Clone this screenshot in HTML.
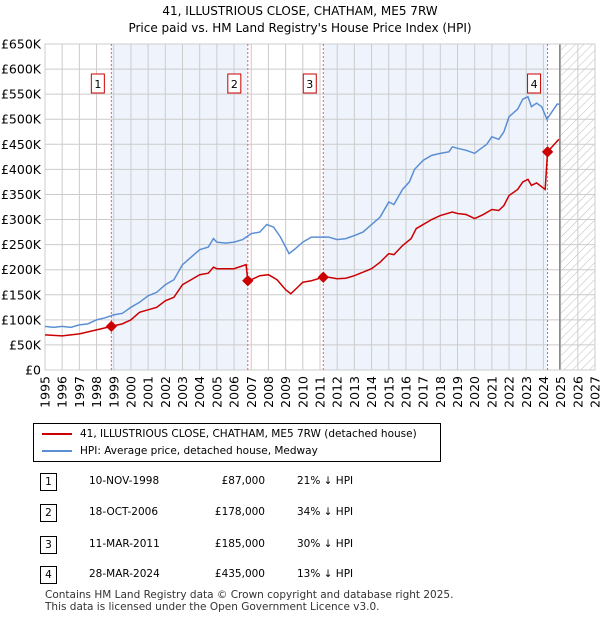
<!DOCTYPE html>
<html><head><meta charset="utf-8"><style>
body{margin:0;width:600px;height:620px;background:#fff;font-family:"DejaVu Sans","Liberation Sans",sans-serif;position:relative;overflow:hidden}
.t{position:absolute;font-size:12px;color:#000}
svg text{font-family:"DejaVu Sans","Liberation Sans",sans-serif}
</style></head><body>
<div class="t" style="left:0;width:600px;text-align:center;top:3px;font-size:12px;line-height:17px">41, ILLUSTRIOUS CLOSE, CHATHAM, ME5 7RW<br>Price paid vs. HM Land Registry's House Price Index (HPI)</div>
<svg id="c" width="600" height="410" style="position:absolute;left:0;top:0">
<defs><pattern id="h" width="6" height="6" patternUnits="userSpaceOnUse" patternTransform="rotate(45)"><line x1="0" y1="0" x2="0" y2="6" stroke="#bbb" stroke-width="1"/></pattern></defs>
</svg>
<div style="position:absolute;left:33px;top:423px;width:406px;height:37px;border:1px solid #000">
<div style="position:absolute;left:8px;top:4px;font-size:10.5px"><span style="display:inline-block;width:30px;height:2px;background:#cc0000;vertical-align:middle;margin-right:8px"></span>41, ILLUSTRIOUS CLOSE, CHATHAM, ME5 7RW (detached house)</div>
<div style="position:absolute;left:8px;top:21px;font-size:10.5px"><span style="display:inline-block;width:30px;height:2px;background:#5b8fd4;vertical-align:middle;margin-right:8px"></span>HPI: Average price, detached house, Medway</div>
</div>
<div id="tbl"></div>
<div class="t" style="left:45px;top:589px;font-size:10.5px;line-height:12px;color:#333">Contains HM Land Registry data © Crown copyright and database right 2025.<br>This data is licensed under the Open Government Licence v3.0.</div>
<script>
const hpiYears=[1995,1995.5,1996,1996.5,1997,1997.5,1998,1998.5,1999,1999.5,2000,2000.5,2001,2001.5,2002,2002.5,2003,2003.5,2004,2004.5,2004.8,2005,2005.5,2006,2006.5,2007,2007.5,2007.9,2008.3,2008.7,2009.2,2009.5,2010,2010.5,2011,2011.5,2012,2012.5,2013,2013.5,2014,2014.5,2015,2015.3,2015.8,2016.2,2016.5,2017,2017.5,2018,2018.5,2018.7,2019,2019.5,2020,2020.3,2020.7,2021,2021.4,2021.7,2022,2022.5,2022.8,2023.1,2023.3,2023.6,2023.9,2024.2,2024.4,2024.8,2024.95];
const hpiValues=[87,85,87,85,90,92,100,104,110,113,125,135,148,155,170,180,210,225,240,245,262,255,253,255,260,272,275,290,285,265,232,240,255,265,265,265,260,262,268,275,290,305,335,330,360,375,400,418,428,432,435,445,442,438,432,440,450,465,460,475,505,520,540,545,525,532,525,500,510,530,530];
const ppYears=[1995,1996,1997,1998,1998.86,1999.5,2000,2000.5,2001,2001.5,2002,2002.5,2003,2003.5,2004,2004.5,2004.8,2005,2006,2006.7,2006.8,2007,2007.5,2008,2008.5,2009,2009.3,2009.7,2010,2010.5,2011.19,2011.5,2012,2012.5,2013,2013.5,2014,2014.5,2015,2015.3,2015.8,2016.3,2016.6,2017,2017.5,2018,2018.7,2019,2019.5,2020,2020.5,2021,2021.4,2021.7,2022,2022.5,2022.8,2023.1,2023.3,2023.6,2024.1,2024.24,2024.5,2024.9];
const ppValues=[70,68,72,80,87,92,100,115,120,125,138,145,170,180,190,193,205,202,202,210,178,180,188,190,180,160,152,165,175,178,185,185,182,183,188,195,202,215,232,230,248,262,282,290,300,308,315,312,310,302,310,320,318,328,348,360,375,380,368,373,360,435,445,460];
const saleYears=[1998.86,2006.8,2011.19,2024.24];
const saleValues=[87,178,185,435];
const saleLabels=["1","2","3","4"];
const saleDates=["10-NOV-1998","18-OCT-2006","11-MAR-2011","28-MAR-2024"];
const salePrices=["£87,000","£178,000","£185,000","£435,000"];
const saleDiffs=["21% ↓ HPI","34% ↓ HPI","30% ↓ HPI","13% ↓ HPI"];
const yTicks=[0,50,100,150,200,250,300,350,400,450,500,550,600,650];
const xTicks=[1995,1996,1997,1998,1999,2000,2001,2002,2003,2004,2005,2006,2007,2008,2009,2010,2011,2012,2013,2014,2015,2016,2017,2018,2019,2020,2021,2022,2023,2024,2025,2026,2027];
const X0=45,X1=595,Y0=370,Y1=44;
const x=v=>X0+(v-1995)/32*(X1-X0);
const y=v=>Y0-v/650*(Y0-Y1);
const svg=document.getElementById('c');const NS='http://www.w3.org/2000/svg';
function mk(t,a){const e=document.createElementNS(NS,t);for(const k in a)e.setAttribute(k,a[k]);svg.appendChild(e);return e;}
for(let i=0;i<saleYears.length;i+=2){const r=mk('rect',{x:x(saleYears[i]),y:Y1,width:x(saleYears[i+1])-x(saleYears[i]),height:Y0-Y1,fill:'#eef3fc'});

}
const hx=x(2024.95);
const hr=mk('rect',{x:hx,y:Y1,width:X1-hx,height:Y0-Y1,fill:'url(#h)'});


yTicks.forEach(v=>{const l=mk('line',{x1:X0,x2:X1,y1:y(v),y2:y(v),stroke:'#ccc'});


const t=mk('text',{x:X0-4,y:y(v)+4.5,'text-anchor':'end','font-size':'12.5','fill':'#000'});t.textContent=v===0?'£0':'£'+v+'K';

});
xTicks.forEach(v=>{const l=mk('line',{x1:x(v),x2:x(v),y1:Y1,y2:Y0,stroke:'#ccc'});


const t=mk('text',{x:0,y:0,'text-anchor':'end','font-size':'12.5',transform:`translate(${x(v)+4.5},${Y0+6}) rotate(-90)`});t.textContent=v;

});
const hl=mk('line',{x1:hx,x2:hx,y1:Y1,y2:Y0,stroke:'#888','stroke-width':1.5});


const br=mk('rect',{x:X0,y:Y1,width:X1-X0,height:Y0-Y1,fill:'none',stroke:'#ccc'});


saleYears.forEach((s,i)=>{const l=mk('line',{x1:x(s),x2:x(s),y1:Y1,y2:Y0,stroke:'#e06060','stroke-dasharray':'2,2'});


const bx=mk('rect',{x:x(s)-20,y:74,width:13,height:19,fill:'#fff',stroke:'#cc0000'});


const t=mk('text',{x:x(s)-13.5,y:88,'text-anchor':'middle','font-size':'11'});t.textContent=saleLabels[i];

});
const hp=mk('polyline',{points:hpiYears.map((v,i)=>x(v)+','+y(hpiValues[i])).join(' '),fill:'none',stroke:'#5b8fd4','stroke-width':1.5});


const pp=mk('polyline',{points:ppYears.map((v,i)=>x(v)+','+y(ppValues[i])).join(' '),fill:'none',stroke:'#cc0000','stroke-width':1.5});


saleYears.forEach((s,i)=>{const c=mk('rect',{x:x(s)-4,y:y(saleValues[i])-4,width:8,height:8,fill:'#cc0000',transform:`rotate(45 ${x(s)} ${y(saleValues[i])})`});

});
const tb=document.getElementById('tbl');
const rowY=[482,513,545,575];
saleLabels.forEach((l,i)=>{const r=document.createElement('div');


r.style.cssText=`position:absolute;left:0;top:${rowY[i]-9}px;width:600px;height:18px;font-size:10.5px`;
r.innerHTML=`<span style="position:absolute;left:40px;top:0;width:15px;height:16px;border:1px solid #000;text-align:center;line-height:16px">${l}</span><span style="position:absolute;left:89px;top:2px">${saleDates[i]}</span><span style="position:absolute;left:180px;width:85px;text-align:right;top:2px">${salePrices[i]}</span><span style="position:absolute;left:297px;top:2px">${saleDiffs[i]}</span>`;
tb.appendChild(r);});
</script>
</body></html>
